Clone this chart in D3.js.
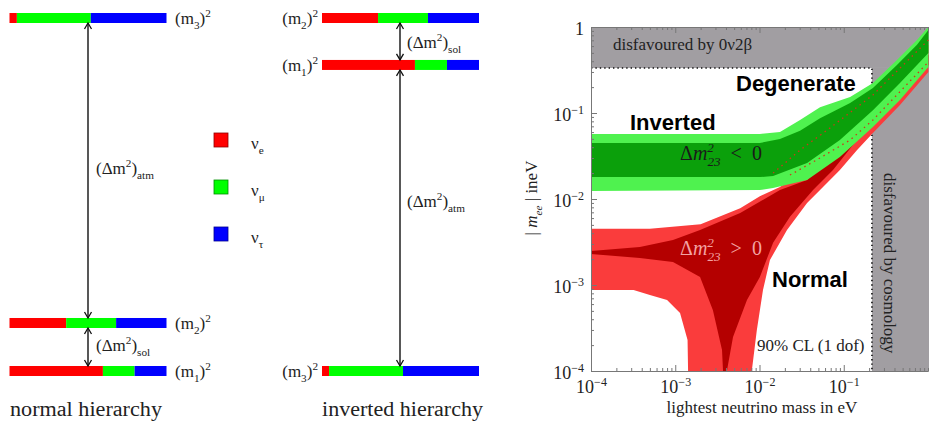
<!DOCTYPE html>
<html><head><meta charset="utf-8">
<script src="https://cdn.jsdelivr.net/npm/d3@7"></script>
<style>
body{margin:0;background:#fff}
svg{display:block}
text{font-family:"Liberation Serif","Times New Roman",serif;fill:#222}
.bold{font-family:"Liberation Sans",Arial,sans-serif;font-weight:bold;fill:#000}
</style>
</head><body>
<svg id="c" width="929" height="425"></svg>
<script>
// ---------------- data: level diagrams ----------------
const flavourNames = ["e", "μ", "τ"];
const flavourColors = ["#ff0000", "#00ff00", "#0000ff"];
const normalLevels = ["1", "2", "3"];
const normalPos = [0, 0.136, 1];
const normalFrac = [[0.595, 0.202, 0.203], [0.361, 0.318, 0.321], [0.047, 0.471, 0.482]];
const invertedLevels = ["3", "1", "2"];
const invertedPos = [0, 0.867, 1];
const invertedFrac = [[0.045, 0.471, 0.484], [0.592, 0.204, 0.204], [0.357, 0.318, 0.325]];

// ---------------- data: m_ee plot ----------------
const xTicks = [1e-4, 1e-3, 1e-2, 1e-1];
const yTicks = [1e-4, 1e-3, 1e-2, 1e-1, 1];
const bbLimit = 0.334;       // disfavoured by 0v2b above this m_ee
const cosmoLimit = 0.216;    // disfavoured by cosmology above this lightest mass
const normalOuter = [[1e-4,4.5e-3],[5e-4,4.5e-3],[2e-3,5.1e-3],[5.9e-3,7.8e-3],[0.0101,0.0108],[0.0175,0.0138],[0.0303,0.02],[0.0687,0.037],[0.222,0.108],[1.01,0.62],
  [1.01,0.30],[0.465,0.124],[0.222,0.0585],[0.144,0.0371],[0.09,0.0217],[0.0523,0.0127],[0.0367,0.00898],[0.0212,0.00436],[0.0133,0.00195],[0.011,8.75e-4],[9.3e-3,3.0e-4],[8.1e-3,1e-4],
  [1.42e-3,1e-4],[1.4e-3,2.29e-4],[1.14e-3,4.73e-4],[8.0e-4,6.7e-4],[5e-4,7.65e-4],[3.2e-4,8.75e-4],[1e-4,8.75e-4]];
const normalInner = [[1e-4,2.48e-3],[3.8e-4,2.77e-3],[9.4e-4,3.34e-3],[1.97e-3,4.36e-3],[5.9e-3,6.88e-3],[0.0175,0.0127],[0.0367,0.0166],[0.09,0.0371],[0.222,0.095],[1.01,0.473],
  [1.01,0.36],[0.222,0.083],[0.0745,0.0217],[0.0432,0.0127],[0.023,0.0062],[0.0145,0.0031],[0.0101,1.24e-3],[7.1e-3,6.7e-4],[4.85e-3,2.48e-4],[4.1e-3,1e-4],
  [3.69e-3,1e-4],[3.59e-3,1.75e-4],[2.8e-3,5.1e-4],[1.97e-3,1.24e-3],[9.4e-4,1.85e-3],[3.8e-4,2.06e-3],[1e-4,2.29e-3]];
const invertedOuter = [[1e-4,0.057],[0.0101,0.057],[0.0175,0.06],[0.0303,0.083],[0.0523,0.117],[0.119,0.153],[0.222,0.223],[0.428,0.413],[0.74,0.706],[1.01,1.0],
  [1.01,0.343],[0.465,0.142],[0.222,0.0687],[0.09,0.0308],[0.0367,0.0166],[0.0145,0.0134],[0.0101,0.0127],[1e-4,0.0124]];
const invertedInner = [[1e-4,0.0448],[0.0101,0.0448],[0.0175,0.05],[0.0303,0.062],[0.0523,0.087],[0.119,0.131],[0.222,0.195],[0.428,0.362],[0.74,0.62],[1.01,0.92],
  [1.01,0.499],[0.465,0.223],[0.222,0.108],[0.09,0.0485],[0.0367,0.0262],[0.0145,0.0185],[0.0101,0.018],[1e-4,0.018]];
const normalEdgeUpper = [[0.0145,0.02],[0.0303,0.0371],[0.0687,0.067],[0.222,0.162],[1.01,0.706]];
const normalEdgeLower = [[0.023,0.019],[0.0523,0.030],[0.119,0.0485],[0.222,0.083],[1.01,0.392]];

// ---------------- helpers ----------------
const svg = d3.select("#c");
svg.append("rect").attr("width", 929).attr("height", 425).attr("fill", "#fff");

function rich(t, parts, size) {
  let off = 0;
  parts.forEach(p => {
    const target = p.sup ? -size * 0.42 : p.sub ? size * 0.28 : 0;
    const ts = t.append("tspan").attr("dy", target - off).text(p.t)
      .attr("font-size", (p.sup || p.sub) ? size * 0.66 : size);
    if (p.dx) ts.attr("dx", p.dx);
    if (p.italic) ts.attr("font-style", "italic");
    off = target;
  });
  return t;
}
function label(x, y, parts, size, anchor) {
  const t = svg.append("text").attr("x", x).attr("y", y).attr("text-anchor", anchor || "start").attr("font-size", size);
  return rich(t, parts, size);
}

// ---------------- level diagrams ----------------
const lvlY = d3.scaleLinear().domain([0, 1]).range([371, 18]);
const barH = 10;

function diagram(levels, pos, fracs, x0, x1, labelX, anchor, arrowX, arrows) {
  const bx = d3.scaleLinear().domain([0, 1]).range([x0, x1]);
  const g = svg.append("g");
  levels.forEach((lv, i) => {
    let cum = 0;
    fracs[i].forEach((f, k) => {
      g.append("rect").attr("x", bx(cum)).attr("y", lvlY(pos[i]) - barH / 2)
        .attr("width", bx(cum + f) - bx(cum)).attr("height", barH).attr("fill", flavourColors[k]);
      cum += f;
    });
    label(labelX, lvlY(pos[i]) + 6, [{t: "(m"}, {t: lv, sub: true}, {t: ")"}, {t: "2", sup: true}], 17, anchor);
  });
  arrows.forEach(([a, b]) => {
    const yTop = lvlY(pos[b]) + barH / 2, yBot = lvlY(pos[a]) - barH / 2;
    g.append("line").attr("x1", arrowX).attr("x2", arrowX).attr("y1", yTop).attr("y2", yBot)
      .attr("stroke", "#111").attr("stroke-width", 1.4);
    g.append("path").attr("d", `M${arrowX - 3.5},${yTop + 6}L${arrowX},${yTop}L${arrowX + 3.5},${yTop + 6}`)
      .attr("fill", "none").attr("stroke", "#111").attr("stroke-width", 1.3);
    g.append("path").attr("d", `M${arrowX - 3.5},${yBot - 6}L${arrowX},${yBot}L${arrowX + 3.5},${yBot - 6}`)
      .attr("fill", "none").attr("stroke", "#111").attr("stroke-width", 1.3);
  });
}
diagram(normalLevels, normalPos, normalFrac, 9.5, 166.5, 175, "start", 88, [[1, 2], [0, 1]]);
diagram(invertedLevels, invertedPos, invertedFrac, 322, 479, 318, "end", 400, [[1, 2], [0, 1]]);

const dm = sub => [{t: "(Δm"}, {t: "2", sup: true}, {t: ")"}, {t: sub, sub: true}];
label(96, 174, dm("atm"), 17);
label(96, 351, dm("sol"), 17);
label(407, 48, dm("sol"), 17);
label(407, 207, dm("atm"), 17);

svg.append("text").attr("x", 10).attr("y", 416).attr("font-size", 20).attr("textLength", 152)
  .attr("lengthAdjust", "spacingAndGlyphs").text("normal hierarchy");
svg.append("text").attr("x", 322).attr("y", 416).attr("font-size", 20).attr("textLength", 161)
  .attr("lengthAdjust", "spacingAndGlyphs").text("inverted hierarchy");

// legend
flavourNames.forEach((n, i) => {
  const y = 133 + i * 47;
  svg.append("rect").attr("x", 214).attr("y", y).attr("width", 14).attr("height", 14)
    .attr("fill", flavourColors[i]).attr("stroke", d3.color(flavourColors[i]).darker(1.6)).attr("stroke-width", 0.8);
  label(251, y + 16, [{t: "ν"}, {t: n, sub: true}], 17);
});

// ---------------- m_ee plot ----------------
const X0 = 591, X1 = 928, Y0 = 371, Y1 = 27;
const xS = d3.scaleLog().domain([1e-4, 1]).range([X0, X1]);
const yS = d3.scaleLog().domain([1e-4, 1]).range([Y0, Y1]);

svg.append("clipPath").attr("id", "pc").append("rect")
  .attr("x", X0).attr("y", Y1).attr("width", 929 - X0).attr("height", Y0 - Y1);
const pg = svg.append("g").attr("clip-path", "url(#pc)");

const gray = "#a19ea2";
pg.append("rect").attr("x", X0).attr("y", Y1).attr("width", 929 - X0).attr("height", yS(bbLimit) - Y1).attr("fill", gray);
pg.append("rect").attr("x", xS(cosmoLimit)).attr("y", yS(bbLimit)).attr("width", 929 - xS(cosmoLimit))
  .attr("height", Y0 - yS(bbLimit)).attr("fill", gray);
pg.append("path")
  .attr("d", `M${X0},${yS(bbLimit)}H${xS(cosmoLimit)}V${Y0}`)
  .attr("fill", "none").attr("stroke", "#111").attr("stroke-width", 1.6).attr("stroke-dasharray", "1.4,3");

const poly = d3.line().x(d => xS(d[0])).y(d => yS(d[1]));
const polyC = d3.line().x(d => xS(d[0])).y(d => yS(d[1])).curve(d3.curveLinearClosed);
pg.append("path").attr("d", polyC(normalOuter)).attr("fill", "#fa3c3c");
pg.append("path").attr("d", polyC(normalInner)).attr("fill", "#b40000");
pg.append("path").attr("d", polyC(invertedOuter)).attr("fill", "#4ff24f");
pg.append("path").attr("d", polyC(invertedInner)).attr("fill", "#0ba00b");
[normalEdgeUpper, normalEdgeLower].forEach(e => {
  pg.append("path").attr("d", poly(e)).attr("fill", "none").attr("stroke", "#c83a1a")
    .attr("stroke-width", 1.3).attr("stroke-dasharray", "1.5,4");
});

// axes
const minor = yS.ticks().filter(v => !yTicks.includes(v));
const minorX = xS.ticks().filter(v => !xTicks.includes(v));
function supLabel(sel) {
  sel.each(function(d) {
    const t = d3.select(this).text(null);
    const e = Math.round(Math.log10(d));
    if (e === 0) t.append("tspan").text("1");
    else { t.append("tspan").text("10"); t.append("tspan").attr("dy", -7).attr("font-size", 12).text("−" + (-e)); }
  });
}
const axisStyle = g => { g.select(".domain").attr("stroke", "#777"); g.selectAll(".tick line").attr("stroke", "#777"); };

const yAx = svg.append("g").attr("transform", `translate(${X0},0)`)
  .call(d3.axisLeft(yS).tickValues(yTicks).tickSize(-6).tickPadding(7).tickSizeOuter(0)).call(axisStyle);
yAx.selectAll(".tick text").attr("font-size", 18).attr("font-family", "Liberation Serif").attr("fill", "#222").attr("dy", "0.42em").call(supLabel);
svg.append("g").attr("transform", `translate(${X0},0)`)
  .call(d3.axisLeft(yS).tickValues(minor).tickSize(-3).tickFormat("").tickSizeOuter(0)).call(axisStyle);

const xAx = svg.append("g").attr("transform", `translate(0,${Y0})`)
  .call(d3.axisBottom(xS).tickValues(xTicks).tickSize(-6).tickPadding(9).tickSizeOuter(0)).call(axisStyle);
xAx.selectAll(".tick text").attr("font-size", 18).attr("font-family", "Liberation Serif").attr("fill", "#222").call(supLabel);
svg.append("g").attr("transform", `translate(0,${Y0})`)
  .call(d3.axisBottom(xS).tickValues(minorX).tickSize(-3).tickFormat("").tickSizeOuter(0)).call(axisStyle);
svg.append("g").attr("transform", `translate(0,${Y1})`)
  .call(d3.axisTop(xS).tickValues(xTicks.concat([1])).tickSize(-6).tickFormat("").tickSizeOuter(0)).call(axisStyle);
svg.append("g").attr("transform", `translate(0,${Y1})`)
  .call(d3.axisTop(xS).tickValues(minorX).tickSize(-3).tickFormat("").tickSizeOuter(0)).call(axisStyle);

// axis titles
svg.append("text").attr("x", 762).attr("y", 413).attr("text-anchor", "middle").attr("font-size", 17)
  .text("lightest neutrino mass in eV");
const yt = svg.append("text").attr("transform", "translate(537,198) rotate(-90)").attr("text-anchor", "middle").attr("font-size", 17);
rich(yt, [{t: "| "}, {t: "m", italic: true}, {t: "ee", sub: true, italic: true}, {t: " | ineV"}], 17);

// region texts
svg.append("text").attr("x", 613).attr("y", 50).attr("font-size", 17).attr("fill", "#333").text("disfavoured by 0ν2β");
svg.append("text").attr("transform", "translate(884,173) rotate(90)").attr("font-size", 17).attr("fill", "#333").text("disfavoured by cosmology");
svg.append("text").attr("class", "bold").attr("x", 736).attr("y", 91).attr("font-size", 22).text("Degenerate");
svg.append("text").attr("class", "bold").attr("x", 630).attr("y", 130).attr("font-size", 22).text("Inverted");
svg.append("text").attr("class", "bold").attr("x", 772).attr("y", 287).attr("font-size", 22).text("Normal");
svg.append("text").attr("x", 757).attr("y", 351).attr("font-size", 17).text("90% CL (1 dof)");

const dm23 = (sign, color, y) => {
  const t = svg.append("text").attr("x", 680).attr("y", y).attr("font-size", 20).style("fill", color);
  rich(t, [{t: "Δ"}, {t: "m", italic: true}, {t: "2", sup: true, italic: true}, {t: "23", sub: true, italic: true, dx: -6.5}, {t: sign, dx: 10}, {t: "0", dx: 10}], 20);
};
dm23("<", "#1a1a1a", 160);
dm23(">", "#f3a3a3", 255);
</script>
</body></html>
